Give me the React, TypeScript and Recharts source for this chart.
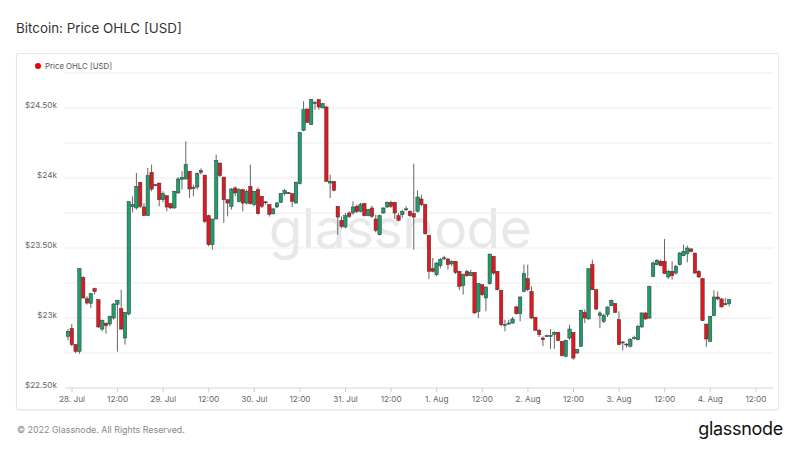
import { ComposedChart, Bar, XAxis, YAxis, CartesianGrid } from "recharts";

// hourly candles, first one is 27 Jul 23:00 (hour -1 relative to 28 Jul 00:00)
const START_HOUR = -1;

const OPEN = [
  22869, 22925, 22810, 22762, 23290, 23138, 23105, 23210, 23131, 22921,
  22964, 22957, 23000, 23098, 23067, 22857, 23029, 23795, 23786, 23969,
  23793, 23731, 24040, 23952, 23964, 23845, 23874, 23817, 23786, 23893,
  23990, 23993, 24048, 23933, 23936, 24052, 24021, 23731, 23524, 23707,
  24107, 24007, 23845, 23798, 23929, 23833, 23917, 23821, 23940, 23810,
  23917, 23869, 23830, 23810, 23745, 23793, 23826, 23888, 23895, 23888,
  23821, 23960, 24341, 24493, 24381, 24540, 24560, 24500, 24507, 23964,
  23976, 23798, 23698, 23650, 23750, 23750, 23798, 23762, 23817, 23731,
  23786, 23707, 23595, 23750, 23793, 23826, 23826, 23731, 23738, 23779,
  23762, 23745, 23762, 23850, 23810, 23590, 23352, 23309, 23374, 23429,
  23421, 23386, 23405, 23333, 23231, 23333, 23302, 23326, 23048, 23238,
  23143, 23245, 23440, 23333, 23198, 22952, 22960, 22964, 23079, 23031,
  23190, 23281, 23190, 23005, 22912, 22857, 22870, 22874, 22881, 22898,
  22833, 22726, 22857, 22898, 22750, 22798, 23040, 22993, 23381, 23202,
  23017, 22976, 23024, 23088, 23102, 22988, 22822, 22814, 22798, 22857,
  22845, 22936, 23036, 23000, 23298, 23381, 23405, 23405, 23293, 23333,
  23321, 23381, 23445, 23460, 23493, 23464, 23333, 23281, 22957, 22833,
  23017, 23150, 23136, 23095, 23102,
];

const HIGH = [
  22921, 22957, 22815, 23355, 23298, 23155, 23179, 23217, 23131, 22990,
  22964, 23017, 23107, 23131, 23202, 23040, 23831, 23869, 24036, 23969,
  23821, 24071, 24095, 23957, 23964, 23905, 23874, 23820, 23910, 24007,
  24048, 24262, 24048, 23952, 24040, 24069, 24021, 23738, 23707, 24167,
  24107, 24007, 23845, 23929, 23940, 23926, 23917, 23917, 24095, 23905,
  23933, 23874, 23833, 23810, 23786, 23829, 23893, 23921, 23900, 23888,
  23976, 24326, 24548, 24493, 24564, 24552, 24564, 24536, 24517, 24024,
  23976, 23798, 23726, 23750, 23762, 23833, 23810, 23822, 23822, 23779,
  23802, 23738, 23738, 23790, 23833, 23838, 23826, 23750, 23774, 23798,
  23769, 24102, 23911, 23881, 23817, 23590, 23429, 23398, 23429, 23445,
  23429, 23412, 23405, 23333, 23317, 23345, 23345, 23326, 23250, 23238,
  23226, 23457, 23445, 23333, 23198, 22988, 22988, 23007, 23088, 23155,
  23381, 23381, 23226, 23005, 22921, 22869, 22881, 22921, 22905, 22898,
  22833, 22845, 22952, 22898, 22779, 23060, 23060, 23352, 23417, 23202,
  23048, 23031, 23083, 23131, 23107, 23048, 22833, 22819, 22857, 22874,
  22952, 23040, 23040, 23231, 23405, 23421, 23417, 23564, 23345, 23405,
  23381, 23471, 23524, 23517, 23500, 23464, 23345, 23286, 22957, 23012,
  23198, 23190, 23143, 23143, 23131,
];

const LOW = [
  22840, 22798, 22750, 22745, 23140, 23095, 23071, 23167, 22929, 22905,
  22888, 22940, 22988, 22760, 22917, 22810, 23017, 23755, 23774, 23786,
  23731, 23731, 23905, 23940, 23798, 23826, 23762, 23780, 23780, 23888,
  23917, 23988, 23857, 23869, 23917, 24024, 23679, 23512, 23488, 23707,
  24007, 23679, 23726, 23774, 23869, 23826, 23762, 23810, 23810, 23798,
  23738, 23786, 23810, 23724, 23738, 23786, 23821, 23874, 23888, 23793,
  23817, 23953, 24334, 24393, 24381, 24488, 24488, 24500, 23976, 23857,
  23905, 23595, 23640, 23640, 23714, 23738, 23750, 23755, 23726, 23726,
  23714, 23612, 23590, 23745, 23786, 23786, 23707, 23690, 23714, 23762,
  23721, 23488, 23755, 23798, 23595, 23279, 23326, 23298, 23355, 23412,
  23345, 23369, 23314, 23198, 23167, 23293, 23298, 23031, 23000, 23155,
  23048, 23238, 23309, 23198, 22940, 22905, 22952, 22960, 23024, 22976,
  23183, 23190, 22993, 22912, 22864, 22798, 22864, 22779, 22779, 22833,
  22726, 22719, 22845, 22702, 22745, 22793, 22964, 22988, 23202, 23055,
  22929, 22964, 23007, 23083, 23036, 22810, 22769, 22788, 22790, 22845,
  22840, 22929, 22988, 22993, 23290, 23376, 23369, 23317, 23279, 23274,
  23309, 23374, 23440, 23398, 23469, 23317, 23286, 22981, 22793, 22833,
  23012, 23126, 23074, 23090, 23083,
];

const CLOSE = [
  22905, 22810, 22762, 23352, 23143, 23107, 23174, 23190, 22936, 22981,
  22945, 23012, 23100, 23126, 22921, 23040, 23831, 23810, 23940, 23798,
  23731, 24017, 23921, 23950, 23845, 23888, 23793, 23786, 23905, 23993,
  24005, 24095, 23921, 23929, 24031, 24040, 23690, 23524, 23707, 24126,
  24017, 23845, 23821, 23921, 23893, 23917, 23821, 23905, 23817, 23905,
  23745, 23798, 23824, 23741, 23779, 23822, 23888, 23910, 23893, 23833,
  23969, 24326, 24488, 24398, 24560, 24540, 24507, 24531, 23976, 23976,
  23912, 23721, 23655, 23731, 23726, 23793, 23760, 23810, 23731, 23774,
  23726, 23626, 23731, 23786, 23826, 23798, 23750, 23698, 23762, 23780,
  23731, 23721, 23864, 23810, 23602, 23333, 23333, 23393, 23417, 23430,
  23381, 23405, 23326, 23226, 23309, 23302, 23326, 23036, 23245, 23167,
  23221, 23457, 23321, 23202, 22952, 22955, 22964, 22993, 23031, 23150,
  23317, 23202, 23000, 22912, 22881, 22845, 22874, 22876, 22898, 22840,
  22731, 22840, 22921, 22714, 22774, 23055, 23000, 23352, 23202, 23064,
  23036, 23019, 23079, 23126, 23040, 22810, 22829, 22812, 22845, 22859,
  22940, 23036, 22993, 23226, 23393, 23412, 23374, 23317, 23333, 23302,
  23369, 23464, 23476, 23500, 23476, 23321, 23293, 22981, 22850, 23012,
  23150, 23136, 23079, 23102, 23131,
];

const TICK_HOURS = [0, 12, 24, 36, 48, 60, 72, 84, 96, 108, 120, 132, 144, 156, 168, 180];
const TICK_LABELS = [
  "28. Jul", "12:00", "29. Jul", "12:00", "30. Jul", "12:00", "31. Jul", "12:00",
  "1. Aug", "12:00", "2. Aug", "12:00", "3. Aug", "12:00", "4. Aug", "12:00",
];
const PRICE_TICKS = [22500, 22750, 23000, 23250, 23500, 23750, 24000, 24250, 24500, 24750];

const UP = "#1d9f6b";
const DOWN = "#e3171d";
const FONT = "Inter, 'Noto Sans', sans-serif";

const data = OPEN.map((o, i) => ({
  hour: START_HOUR + i,
  open: o,
  high: HIGH[i],
  low: LOW[i],
  close: CLOSE[i],
  range: [LOW[i], HIGH[i]],
}));

function Candle(props: any) {
  const { x, y, width, height, payload } = props;
  const { open, high, low, close } = payload;
  const top = Math.min(y, y + height);
  const h = Math.abs(height);
  const cx = x + width / 2;
  const k = high > low ? h / (high - low) : 0;
  const yO = top + (high - open) * k;
  const yC = top + (high - close) * k;
  const bodyTop = Math.min(yO, yC);
  const bodyH = Math.max(Math.abs(yC - yO), 1);
  const up = close >= open;
  return (
    <g>
      <line x1={cx} x2={cx} y1={top} y2={top + h} stroke="#666" strokeWidth={1} />
      <rect
        x={cx - 1.7}
        y={bodyTop}
        width={3.4}
        height={bodyH}
        fill={up ? UP : DOWN}
        stroke="#333"
        strokeWidth={0.5}
      />
    </g>
  );
}

function PriceTick(props: any) {
  const { x, y, payload } = props;
  const v = payload.value;
  if (v % 500 !== 0) return null;
  const k = v / 1000;
  const label = Number.isInteger(k) ? `$${k}k` : `$${k.toFixed(2)}k`;
  return (
    <text x={x} y={y - 3} dy="0.355em" textAnchor="end" fontSize={8.2} fill="#666" fontFamily={FONT}>
      {label}
    </text>
  );
}

function TimeTick(props: any) {
  const { x, y, payload } = props;
  const i = TICK_HOURS.indexOf(payload.value);
  return (
    <text x={x} y={y} dy="0.71em" textAnchor="middle" fontSize={8.2} fill="#666" fontFamily={FONT}>
      {TICK_LABELS[i]}
    </text>
  );
}

export default function App() {
  return (
    <div
      style={{
        position: "absolute",
        left: 0,
        top: 0,
        width: 800,
        height: 450,
        background: "#fff",
        fontFamily: FONT,
        overflow: "hidden",
      }}
    >
      <div style={{ position: "absolute", left: 16, top: 20, fontSize: 13.4, color: "#333" }}>
        Bitcoin: Price OHLC [USD]
      </div>
      <div
        style={{
          position: "absolute",
          left: 16,
          top: 53,
          width: 761,
          height: 355,
          border: "1px solid #e6e6e6",
          borderRadius: 2,
          boxShadow: "0 1px 2px rgba(0,0,0,0.06)",
        }}
      />
      <div style={{ position: "absolute", left: 35, top: 61, display: "flex", alignItems: "center", fontSize: 7.8, color: "#555" }}>
        <span style={{ width: 6, height: 6, borderRadius: "50%", background: "#e00", display: "inline-block", marginRight: 4 }} />
        Price OHLC [USD]
      </div>
      <div
        style={{
          position: "absolute",
          left: 0,
          width: 800,
          top: 195,
          textAlign: "center",
          fontSize: 55,
          color: "#e8e8e8",
          letterSpacing: -0.5,
        }}
      >
        glassnode
      </div>
      <div style={{ position: "absolute", left: 0, top: 0 }}>
        <ComposedChart
          width={800}
          height={450}
          data={data}
          margin={{ top: 73, right: 27, bottom: 42, left: 8 }}
        >
          <CartesianGrid vertical={false} stroke="#ececec" />
          <XAxis
            dataKey="hour"
            type="number"
            domain={[-1.84, 184.5]}
            ticks={TICK_HOURS}
            allowDataOverflow
            height={20}
            tickSize={4}
            tickMargin={4}
            axisLine={{ stroke: "#e0e0e0" }}
            tickLine={{ stroke: "#ccc" }}
            tick={<TimeTick />}
          />
          <YAxis
            type="number"
            domain={[22500, 24750]}
            ticks={PRICE_TICKS}
            allowDataOverflow
            width={57}
            axisLine={false}
            tickLine={false}
            tick={<PriceTick />}
          />
          <Bar dataKey="range" barSize={4} shape={<Candle />} isAnimationActive={false} />
        </ComposedChart>
      </div>
      <div style={{ position: "absolute", left: 17, top: 424, fontSize: 8.9, color: "#888" }}>
        © 2022 Glassnode. All Rights Reserved.
      </div>
      <div style={{ position: "absolute", right: 17, top: 418, fontSize: 18, color: "#111", letterSpacing: -0.3 }}>
        glassnode
      </div>
    </div>
  );
}
